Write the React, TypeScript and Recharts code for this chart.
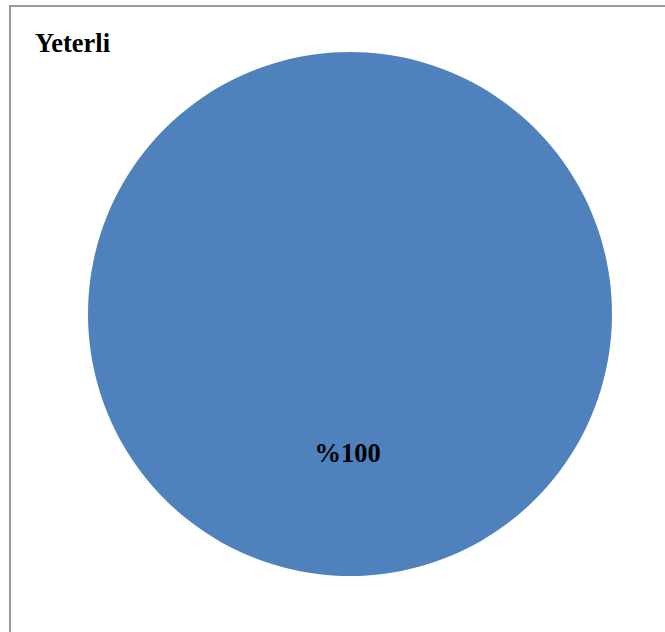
import React from "react";
import { PieChart, Pie, Cell } from "recharts";

// Response categories and their shares (percent)
const categories: string[] = ["Yeterli"];
const shares: number[] = [100];
const sliceColors: string[] = ["#4F81BD"];

const data = categories.map((name, i) => ({ name, value: shares[i] }));

const RADIAN = Math.PI / 180;

// Percent label placed inside the slice, about halfway out from the centre
const renderLabel = (props: any) => {
  const { cx, cy, midAngle, outerRadius, value } = props;
  const r = outerRadius * 0.53;
  const x = cx + r * Math.cos(-midAngle * RADIAN);
  const y = cy + r * Math.sin(-midAngle * RADIAN);
  return (
    <text
      x={x}
      y={y}
      dx={-2.5}
      textAnchor="middle"
      dominantBaseline="central"
      fill="#000"
      style={{ fontFamily: "'Liberation Serif', 'Times New Roman', serif", fontWeight: "bold", fontSize: 26.5 }}
    >
      {"%" + value}
    </text>
  );
};

export default function App() {
  return (
    <div style={{ position: "absolute", left: 0, top: 0, width: 665, height: 632, overflow: "hidden", background: "#fff" }}>
      <div
        style={{
          position: "absolute",
          left: 9,
          top: 5,
          width: 700,
          height: 700,
          border: "2px solid #9a9a9a",
          boxSizing: "border-box",
        }}
      />
      <div
        style={{
          position: "absolute",
          left: 35,
          top: 29.5,
          fontFamily: "'Liberation Serif', 'Times New Roman', serif",
          fontWeight: "bold",
          fontSize: 26.5,
          lineHeight: 1,
          color: "#000",
        }}
      >
        {categories[0]}
      </div>
      <div style={{ position: "absolute", left: 0, top: 0 }}>
        <PieChart width={665} height={632} margin={{ top: 0, right: 0, bottom: 0, left: 0 }}>
          <Pie
            data={data}
            dataKey="value"
            nameKey="name"
            cx={350}
            cy={314}
            outerRadius={262}
            startAngle={90}
            endAngle={450}
            stroke="none"
            label={renderLabel}
            labelLine={false}
            isAnimationActive={false}
          >
            {data.map((d, i) => (
              <Cell key={d.name} fill={sliceColors[i]} />
            ))}
          </Pie>
        </PieChart>
      </div>
    </div>
  );
}
